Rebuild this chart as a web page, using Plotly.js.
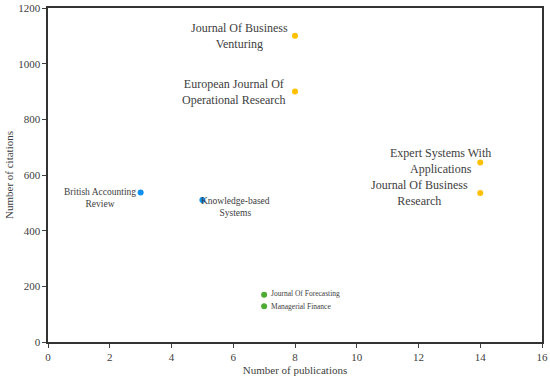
<!DOCTYPE html>
<html><head><meta charset="utf-8">
<script src="https://cdn.plot.ly/plotly-3.0.1.min.js"></script>
<style>body{margin:0;padding:0;background:#fff}#chart{width:550px;height:380px}</style>
</head><body><div id="chart"></div>
<script>
// Data
const journals = ["Journal Of Business<br>Venturing","European Journal Of<br>Operational Research","Expert Systems With<br>Applications","Journal Of Business<br>Research","British Accounting<br>Review","Knowledge-based<br>Systems","Journal Of Forecasting","Managerial Finance"];
const publications = [8, 8, 14, 14, 3, 5, 7, 7];
const citations = [1100, 900, 645, 535, 537, 510, 170, 128];
const groups = ["orange","orange","orange","orange","blue","blue","green","green"];

const colorMap = {orange:"#FFC000", blue:"#0F8FF0", green:"#4DAA33"};
// label styling per point (font size, anchor, shifts)
const labelStyle = [
  {size:12, xanchor:"right", xshift:-5, yshift:0},
  {size:12, xanchor:"right", xshift:-7, yshift:0},
  {size:12, xanchor:"center", xshift:-40, yshift:1},
  {size:12, xanchor:"right", xshift:-10, yshift:0},
  {size:9.5, xanchor:"right", xshift:-3, yshift:-5},
  {size:9.5, xanchor:"left", xshift:-3, yshift:-7},
  {size:7.5, xanchor:"left", xshift:5, yshift:1},
  {size:7.5, xanchor:"left", xshift:5, yshift:0}
];

const traces = ["orange","blue","green"].map(g => {
  const idx = groups.map((v,i)=>v===g?i:-1).filter(i=>i>=0);
  return {
    type:"scatter", mode:"markers",
    x: idx.map(i=>publications[i]), y: idx.map(i=>citations[i]),
    marker:{color:colorMap[g], size:6},
    hoverinfo:"skip", showlegend:false
  };
});

const annotations = journals.map((t,i)=>({
  x: publications[i], y: citations[i], xref:"x", yref:"y",
  text: t, showarrow:false,
  xanchor: labelStyle[i].xanchor, yanchor:"middle",
  xshift: labelStyle[i].xshift, yshift: labelStyle[i].yshift,
  align:"center",
  font:{family:"Liberation Serif, Times New Roman, serif", size:labelStyle[i].size, color:"#404040"}
}));

const axisCommon = {
  showgrid:false, zeroline:false,
  showline:true, linecolor:"#333333", linewidth:1.6, mirror:true,
  ticks:"outside", ticklen:4, tickcolor:"#404040", tickwidth:1,
  tickfont:{family:"Liberation Serif, Times New Roman, serif", size:11, color:"#404040"}
};

const layout = {
  width:550, height:380,
  margin:{l:48, r:8, t:8, b:38},
  paper_bgcolor:"#fff", plot_bgcolor:"#fff",
  xaxis: Object.assign({}, axisCommon, {
    range:[0,16], dtick:2, tick0:0,
    title:{text:"Number of publications", standoff:4,
      font:{family:"Liberation Serif, Times New Roman, serif", size:11, color:"#404040"}}
  }),
  yaxis: Object.assign({}, axisCommon, {
    range:[0,1200], dtick:200, tick0:0,
    title:{text:"Number of citations", standoff:2,
      font:{family:"Liberation Serif, Times New Roman, serif", size:11, color:"#404040"}}
  }),
  annotations: annotations
};

Plotly.newPlot("chart", traces, layout, {displayModeBar:false, staticPlot:true});
</script>
</body></html>
